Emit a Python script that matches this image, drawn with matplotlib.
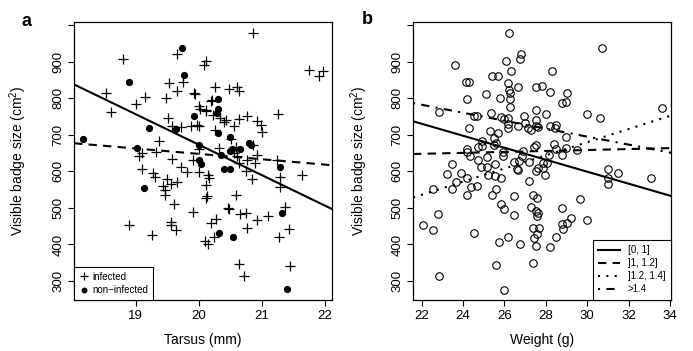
import matplotlib
matplotlib.use("Agg")
import matplotlib.pyplot as plt
from matplotlib.lines import Line2D

plt.rcParams['font.family'] = ['Liberation Sans', 'DejaVu Sans']
plt.rcParams['mathtext.fontset'] = 'custom'
plt.rcParams['mathtext.rm'] = 'Liberation Sans'
plt.rcParams['mathtext.it'] = 'Liberation Sans:italic'

# panel a: tarsus (mm) vs visible badge size, infected birds
INF_TARSUS = [20.86, 18.80, 19.66, 20.11, 20.08, 21.74, 21.91, 21.96, 18.53, 18.60,
              19.01, 19.15, 19.48, 19.52, 19.66, 19.74, 19.92, 19.94, 20.26, 20.48,
              20.60, 20.64, 20.19, 20.00, 20.11, 19.51, 19.57, 19.72, 19.87, 19.97,
              20.00, 20.23, 20.33, 20.39, 20.43, 20.55, 20.63, 20.77, 20.92, 20.98,
              21.00, 21.25, 20.25, 19.37, 19.32, 19.10, 19.05, 19.57, 19.72, 19.90,
              19.10, 19.28, 19.81, 20.00, 20.15, 20.16, 20.32, 20.51, 20.59, 20.55,
              20.60, 20.63, 20.74, 20.77, 20.89, 20.92, 20.86, 21.23, 21.29, 21.63,
              19.30, 20.84, 19.50, 19.66, 19.43, 19.47, 19.47, 19.55, 20.11, 20.13,
              20.11, 19.60, 20.59, 21.29, 19.90, 20.46, 20.48, 21.36, 20.65, 20.74,
              20.92, 21.10, 19.56, 19.56, 19.63, 18.89, 19.26, 20.19, 20.27, 20.76,
              21.43, 20.09, 20.15, 21.27, 20.63, 20.71, 21.45, 20.24, 20.00, 20.21,
              20.12, 20.02]
INF_BADGE = [980, 907, 921, 901, 891, 877, 860, 874, 816, 764,
             785, 803, 800, 842, 819, 844, 816, 813, 832, 825,
             832, 819, 793, 778, 769, 746, 725, 722, 725, 727,
             723, 755, 746, 734, 741, 725, 744, 752, 737, 728,
             709, 756, 714, 682, 654, 650, 641, 633, 613, 630,
             606, 595, 598, 598, 590, 581, 664, 688, 668, 650,
             641, 622, 602, 632, 622, 645, 673, 632, 586, 590,
             584, 579, 579, 570, 561, 548, 536, 566, 563, 533,
             526, 510, 536, 557, 490, 499, 497, 502, 484, 486,
             466, 479, 462, 453, 440, 453, 427, 460, 469, 444,
             442, 410, 402, 420, 346, 314, 342, 420, 660, 795,
             765, 770]

# non-infected birds
NON_TARSUS = [18.17, 18.89, 19.73, 19.76, 19.21, 19.63, 19.93, 20.31, 20.30, 20.29,
              20.30, 20.00, 20.49, 19.02, 20.35, 20.49, 20.53, 20.65, 20.80, 20.82,
              20.00, 20.03, 20.40, 20.49, 21.29, 19.13, 20.32, 20.54, 21.31, 21.39]
NON_BADGE = [690, 845, 939, 863, 719, 717, 752, 798, 772, 760,
             704, 673, 693, 664, 646, 655, 661, 661, 677, 671,
             631, 620, 606, 606, 611, 554, 431, 421, 486, 277]

# fitted lines in panel a: slope and value at tarsus = 20
A_SLOPE = [-83.4, -14.7]
A_AT20 = [673, 648]
A_STYLE = ['-', (0, (4, 3))]

# panel b: weight (g) vs visible badge size
WEIGHT = [26.22, 22.85, 23.61, 26.80, 26.75, 26.06, 26.31, 30.73, 28.31, 25.42,
          25.70, 24.15, 24.29, 26.15, 26.24, 26.66, 26.25, 27.51, 27.82, 28.20,
          29.04, 24.19, 25.12, 25.80, 26.27, 28.80, 28.98, 26.25, 33.60, 25.33,
          25.82, 26.00, 26.19, 26.95, 27.51, 28.02, 30.00, 30.60, 24.52, 24.66,
          24.29, 26.19, 26.19, 26.64, 27.00, 27.12, 27.27, 27.54, 27.51, 27.60,
          28.20, 28.50, 28.44, 28.98, 25.30, 25.70, 25.48, 24.91, 24.70, 24.19,
          24.18, 24.32, 24.91, 25.50, 25.57, 25.16, 25.95, 25.95, 26.91, 27.51,
          27.45, 26.83, 28.17, 28.39, 28.49, 28.80, 28.97, 29.49, 24.70, 25.15,
          25.55, 26.47, 26.63, 26.68, 27.20, 27.50, 27.60, 27.85, 27.96, 28.04,
          27.88, 23.46, 23.20, 23.90, 24.20, 24.85, 25.22, 25.53, 25.84, 31.02,
          31.50, 33.08, 31.02, 31.02, 23.65, 23.48, 22.54, 24.20, 24.40, 24.65,
          25.57, 25.42, 25.84, 25.98, 26.46, 26.47, 27.20, 27.40, 27.55, 27.26,
          27.51, 27.63, 27.58, 26.60, 29.63, 30.00, 28.80, 28.80, 29.00, 29.22,
          28.84, 28.49, 28.20, 27.40, 27.65, 27.42, 27.56, 27.54, 26.75, 26.15,
          25.75, 24.53, 25.60, 27.38, 26.00, 22.84, 22.07, 22.55, 22.80]
BADGE_B = [980, 764, 891, 921, 908, 901, 876, 939, 874, 862,
           861, 844, 846, 841, 822, 831, 816, 830, 833, 818,
           816, 799, 812, 802, 798, 787, 791, 777, 773, 760,
           750, 743, 746, 753, 767, 756, 756, 746, 751, 753,
           720, 730, 718, 725, 732, 718, 714, 741, 723, 722,
           725, 728, 719, 693, 711, 705, 692, 682, 668, 662,
           652, 641, 670, 671, 677, 640, 654, 641, 656, 671,
           668, 643, 646, 676, 660, 646, 664, 658, 630, 611,
           620, 627, 604, 629, 627, 600, 609, 609, 590, 624,
           622, 620, 594, 596, 582, 611, 590, 588, 583, 606,
           597, 581, 581, 566, 572, 552, 551, 536, 557, 559,
           552, 536, 510, 496, 534, 481, 574, 536, 527, 502,
           491, 485, 478, 606, 525, 467, 499, 456, 460, 472,
           442, 420, 392, 444, 445, 417, 429, 397, 400, 421,
           408, 431, 344, 348, 276, 314, 453, 440, 484]

# fitted lines in panel b, one per group: slope and value at weight = 28
B_GROUPS = ['[0, 1]', ']1, 1.2]', ']1.2, 1.4]', '>1.4']
B_SLOPE = [-16.4, 1.3, 18.0, -10.9]
B_AT28 = [632, 656, 644, 717]
B_STYLE = ['-', (0, (4, 3)), (0, (1, 3)), (0, (1, 3, 4, 3))]

Y_TICKS = [300, 400, 500, 600, 700, 800, 900, 1000]
Y_LABELS = ['300', '400', '500', '600', '700', '800', '900', '']
A_XTICKS = [19, 20, 21, 22]
B_XTICKS = [22, 24, 26, 28, 30, 32, 34]
YLABEL = 'Visible badge size (cm$^2$)'


def style_axes(ax, xticks, xlim):
    ax.set_xlim(*xlim)
    ax.set_ylim(248, 1009)
    ax.set_xticks(xticks, [str(t) for t in xticks], fontsize=9.5)
    ax.set_yticks(Y_TICKS, Y_LABELS, fontsize=9.5, rotation=90, va='center')
    ax.tick_params(direction='out', length=4, width=0.8, pad=3)
    for s in ax.spines.values():
        s.set_linewidth(0.9)
    ax.set_ylabel(YLABEL, fontsize=10)
    ax.yaxis.set_label_coords(-0.175, 0.5)
    ax.xaxis.label.set_fontsize(10)


fig = plt.figure(figsize=(6.93, 3.51), dpi=100)

# panel a
ax1 = fig.add_axes([0.1068, 0.1453, 0.3723, 0.792])
ax1.plot(INF_TARSUS, INF_BADGE, '+', color='black', ms=7, mew=0.9, zorder=3)
ax1.plot(NON_TARSUS, NON_BADGE, 'o', color='black', ms=4.2, zorder=4)
for s, y0, ls in zip(A_SLOPE, A_AT20, A_STYLE):
    ax1.axline((20, y0), slope=s, color='black', lw=1.5, linestyle=ls, zorder=5)
style_axes(ax1, A_XTICKS, (18.02, 22.11))
ax1.set_xlabel('Tarsus (mm)')
ax1.xaxis.set_label_coords(0.5, -0.145)
ax1.xaxis.label.set_va('center')
handles = [Line2D([], [], marker='+', ls='none', color='black', ms=6, mew=0.9),
           Line2D([], [], marker='o', ls='none', color='black', ms=3.2)]
leg = ax1.legend(handles, ['infected', 'non\u2212infected'], loc='lower left',
                 bbox_to_anchor=(0, 0), borderaxespad=0, fontsize=7,
                 fancybox=False, edgecolor='black', framealpha=1,
                 handlelength=1.0, handletextpad=0.4, labelspacing=0.35,
                 borderpad=0.5)
leg.get_frame().set_linewidth(0.8)

# panel b
ax2 = fig.add_axes([0.5960, 0.1453, 0.3723, 0.792])
ax2.plot(WEIGHT, BADGE_B, 'o', mfc='none', mec='black', ms=5.4, mew=0.8, zorder=3)
for s, y0, ls in zip(B_SLOPE, B_AT28, B_STYLE):
    ax2.axline((28, y0), slope=s, color='black', lw=1.5, linestyle=ls, zorder=4)
style_axes(ax2, B_XTICKS, (21.58, 34.05))
ax2.yaxis.set_label_coords(-0.167, 0.5)
ax2.set_xlabel('Weight (g)')
ax2.xaxis.set_label_coords(0.5, -0.145)
ax2.xaxis.label.set_va('center')
handles = [Line2D([], [], color='black', lw=1.5, linestyle=ls) for ls in B_STYLE]
leg = ax2.legend(handles, B_GROUPS, loc='lower right', bbox_to_anchor=(1, 0),
                 borderaxespad=0, fontsize=7, fancybox=False, edgecolor='black',
                 framealpha=1, handlelength=2.2, handletextpad=0.8,
                 labelspacing=0.3, borderpad=0.6)
leg.get_frame().set_linewidth(0.8)

fig.text(27 / 693, 1 - 21 / 351, 'a', fontsize=13, fontweight='bold',
         ha='center', va='center')
fig.text(367 / 693, 1 - 20 / 351, 'b', fontsize=13, fontweight='bold',
         ha='center', va='center')

fig.savefig('out.png', dpi=100)
